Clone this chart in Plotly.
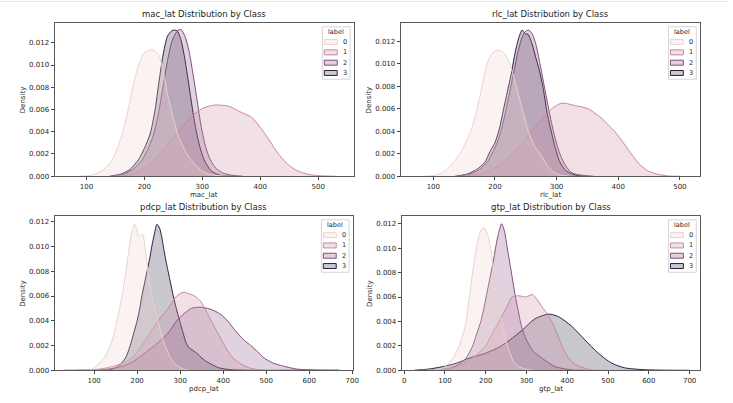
import plotly.graph_objects as go

W, H = 733, 403

# ---------------- data ----------------
panels = ["mac_lat", "rlc_lat", "pdcp_lat", "gtp_lat"]
classes = ["0", "1", "2", "3"]

# mac_lat
mac_x0 = [85, 110, 130, 145, 160, 170, 180, 190, 200, 213, 225, 232, 240, 250, 260, 275, 290, 305, 320, 345]
mac_d0 = [0, 0.0001, 0.0006, 0.0015, 0.0035, 0.0055, 0.0080, 0.0100, 0.0111, 0.0114, 0.0109, 0.0095, 0.0074, 0.0052, 0.0034, 0.0019, 0.0009, 0.0003, 0.0001, 0]
mac_x1 = [150, 180, 200, 220, 240, 260, 280, 300, 322, 345, 365, 385, 400, 415, 430, 445, 460, 480, 500, 530]
mac_d1 = [0, 0.0002, 0.0007, 0.0016, 0.0028, 0.0041, 0.0053, 0.0061, 0.0064, 0.0063, 0.0058, 0.0053, 0.0044, 0.0033, 0.0021, 0.0012, 0.0006, 0.0002, 0.00005, 0]
mac_x2 = [145, 165, 180, 195, 205, 215, 225, 232, 240, 248, 256, 263, 270, 277, 283, 290, 297, 304, 312, 322, 335, 350, 370]
mac_d2 = [0, 0.0002, 0.0006, 0.0014, 0.0023, 0.0036, 0.0058, 0.0080, 0.0104, 0.0122, 0.0130, 0.0132, 0.0126, 0.0113, 0.0095, 0.0072, 0.0048, 0.0030, 0.0017, 0.0008, 0.0003, 0.0001, 0]
mac_x3 = [140, 160, 175, 190, 200, 210, 218, 225, 232, 240, 248, 256, 263, 270, 276, 282, 288, 295, 303, 315, 330, 350]
mac_d3 = [0, 0.0002, 0.0006, 0.0015, 0.0025, 0.0038, 0.0058, 0.0084, 0.0108, 0.0126, 0.0131, 0.0131, 0.0123, 0.0105, 0.0085, 0.0064, 0.0045, 0.0028, 0.0015, 0.0005, 0.0001, 0]

# rlc_lat
rlc_x0 = [85, 105, 120, 135, 145, 155, 163, 171, 179, 187, 195, 203, 212, 220, 228, 236, 244, 254, 264, 273, 283, 292, 305, 320]
rlc_d0 = [0, 0.0001, 0.0005, 0.0014, 0.0022, 0.0033, 0.0044, 0.0060, 0.0080, 0.0100, 0.0109, 0.0112, 0.0111, 0.0105, 0.0093, 0.0077, 0.0060, 0.0040, 0.0027, 0.0020, 0.0011, 0.0005, 0.0001, 0]
rlc_x1 = [150, 175, 195, 210, 228, 245, 260, 275, 292, 308, 329, 351, 372, 385, 394, 408, 421, 434, 447, 462, 480, 500]
rlc_d1 = [0, 0.0002, 0.0006, 0.0011, 0.0020, 0.0030, 0.0040, 0.0050, 0.0060, 0.0065, 0.0063, 0.0060, 0.0052, 0.0045, 0.0040, 0.0030, 0.0020, 0.0011, 0.0005, 0.0002, 0.00003, 0]
rlc_x2 = [140, 160, 175, 188, 197, 205, 212, 219, 225, 231, 237, 243, 248, 254, 260, 266, 273, 280, 286, 292, 298, 306, 315, 325, 340, 360]
rlc_d2 = [0, 0.0002, 0.0006, 0.0013, 0.0022, 0.0032, 0.0045, 0.0062, 0.0078, 0.0094, 0.0110, 0.0122, 0.0128, 0.0130, 0.0127, 0.0118, 0.0100, 0.0080, 0.0063, 0.0047, 0.0033, 0.0019, 0.0009, 0.0003, 0.0001, 0]
rlc_x3 = [135, 155, 170, 183, 192, 200, 207, 214, 220, 226, 232, 238, 244, 249, 254, 260, 266, 272, 278, 284, 290, 297, 305, 315, 330, 350]
rlc_d3 = [0, 0.0002, 0.0006, 0.0012, 0.0022, 0.0030, 0.0042, 0.0060, 0.0075, 0.0090, 0.0108, 0.0122, 0.0130, 0.0127, 0.0126, 0.0118, 0.0106, 0.0094, 0.0079, 0.0058, 0.0043, 0.0027, 0.0013, 0.0005, 0.0001, 0]

# pdcp_lat
pdcp_x0 = [70, 90, 111, 125, 138, 146, 153, 160, 165, 170, 174, 178, 182, 188, 194, 199, 203, 208, 213, 218, 225, 230, 234, 241, 248, 256, 265, 276, 288, 306, 320]
pdcp_d0 = [0, 0.0000, 0.0005, 0.0011, 0.0020, 0.0029, 0.0040, 0.0051, 0.0060, 0.0071, 0.0080, 0.0090, 0.0100, 0.0112, 0.0118, 0.0114, 0.0108, 0.0109, 0.0110, 0.0100, 0.0080, 0.0068, 0.0060, 0.0050, 0.0040, 0.0030, 0.0020, 0.0011, 0.0005, 0.0001, 0]
pdcp_x1 = [90, 130, 160, 188, 211, 230, 249, 272, 292, 307, 320, 334, 349, 360, 372, 388, 403, 420, 441, 460, 479, 500]
pdcp_d1 = [0, 0.0002, 0.0005, 0.0010, 0.0020, 0.0030, 0.0040, 0.0050, 0.0060, 0.0063, 0.0062, 0.0060, 0.0055, 0.0048, 0.0040, 0.0030, 0.0020, 0.0011, 0.0005, 0.0002, 0.00005, 0]
pdcp_x2 = [60, 110, 150, 180, 203, 222, 241, 257, 272, 292, 310, 326, 345, 364, 380, 395, 410, 433, 450, 464, 480, 495, 515, 533, 571, 617, 670]
pdcp_d2 = [0, 0.00003, 0.0002, 0.0005, 0.0010, 0.0015, 0.0020, 0.0025, 0.0030, 0.0040, 0.0046, 0.0050, 0.0051, 0.0050, 0.0048, 0.0045, 0.0040, 0.0030, 0.0024, 0.0020, 0.0015, 0.0010, 0.0006, 0.0004, 0.0001, 0.00002, 0]
pdcp_x3 = [30, 100, 134, 155, 173, 184, 192, 200, 206, 211, 217, 223, 229, 234, 240, 246, 252, 257, 261, 266, 272, 278, 284, 291, 299, 307, 314, 321, 330, 341, 357, 372, 390, 418, 460, 560, 670]
pdcp_d3 = [0, 0, 0.00003, 0.0003, 0.0010, 0.0020, 0.0030, 0.0040, 0.0050, 0.0060, 0.0070, 0.0080, 0.0090, 0.0100, 0.0110, 0.0118, 0.0115, 0.0108, 0.0100, 0.0090, 0.0080, 0.0070, 0.0060, 0.0050, 0.0040, 0.0030, 0.0022, 0.0018, 0.0016, 0.0013, 0.0008, 0.0005, 0.0002, 0.00005, 0, 0, 0]

# gtp_lat
gtp_x0 = [60, 90, 107, 122, 135, 145, 152, 160, 168, 177, 186, 196, 204, 212, 220, 228, 239, 253, 273, 297, 315]
gtp_d0 = [0, 0.0001, 0.0005, 0.0011, 0.0020, 0.0030, 0.0040, 0.0060, 0.0080, 0.0100, 0.0113, 0.0117, 0.0112, 0.0100, 0.0080, 0.0060, 0.0040, 0.0020, 0.0005, 0.0001, 0]
gtp_x1 = [40, 100, 140, 168, 185, 200, 216, 233, 249, 265, 281, 298, 314, 326, 338, 350, 362, 375, 387, 403, 419, 440, 460, 490]
gtp_d1 = [0, 0.0001, 0.0004, 0.0010, 0.0015, 0.0020, 0.0030, 0.0040, 0.0050, 0.0060, 0.0061, 0.0060, 0.0062, 0.0058, 0.0052, 0.0047, 0.0040, 0.0030, 0.0020, 0.0010, 0.0005, 0.0002, 0.00003, 0]
gtp_x2 = [60, 103, 130, 152, 168, 178, 188, 195, 201, 207, 213, 219, 224, 232, 239, 246, 253, 258, 263, 268, 273, 279, 285, 293, 306, 318, 330, 346, 370, 411, 450]
gtp_d2 = [0, 0.0001, 0.0004, 0.0010, 0.0020, 0.0030, 0.0040, 0.0050, 0.0060, 0.0070, 0.0080, 0.0090, 0.0100, 0.0113, 0.0120, 0.0114, 0.0100, 0.0090, 0.0080, 0.0070, 0.0060, 0.0050, 0.0040, 0.0030, 0.0021, 0.0015, 0.0012, 0.0008, 0.0003, 0.00003, 0]
gtp_x3 = [25, 60, 95, 130, 160, 200, 233, 260, 290, 320, 354, 378, 411, 443, 476, 508, 541, 589, 640, 700]
gtp_d3 = [0, 0.0001, 0.0003, 0.0006, 0.0010, 0.0014, 0.0019, 0.0025, 0.0033, 0.0042, 0.0046, 0.0044, 0.0036, 0.0025, 0.0014, 0.0006, 0.0002, 0.00005, 0.00001, 0]

series = {
    "mac_lat": [(mac_x0, mac_d0), (mac_x1, mac_d1), (mac_x2, mac_d2), (mac_x3, mac_d3)],
    "rlc_lat": [(rlc_x0, rlc_d0), (rlc_x1, rlc_d1), (rlc_x2, rlc_d2), (rlc_x3, rlc_d3)],
    "pdcp_lat": [(pdcp_x0, pdcp_d0), (pdcp_x1, pdcp_d1), (pdcp_x2, pdcp_d2), (pdcp_x3, pdcp_d3)],
    "gtp_lat": [(gtp_x0, gtp_d0), (gtp_x1, gtp_d1), (gtp_x2, gtp_d2), (gtp_x3, gtp_d3)],
}

x_ranges = {"mac_lat": [45, 562], "rlc_lat": [47, 533], "pdcp_lat": [8, 702], "gtp_lat": [-6, 726]}
y_ranges = {"mac_lat": [0, 0.0138], "rlc_lat": [0, 0.01365], "pdcp_lat": [0, 0.01248], "gtp_lat": [0, 0.01265]}
x_ticks = {
    "mac_lat": [100, 200, 300, 400, 500],
    "rlc_lat": [100, 200, 300, 400, 500],
    "pdcp_lat": [100, 200, 300, 400, 500, 600, 700],
    "gtp_lat": [0, 100, 200, 300, 400, 500, 600, 700],
}
y_ticks = [0, 0.002, 0.004, 0.006, 0.008, 0.010, 0.012]

# ---------------- style ----------------
colors = [(237, 209, 203), (200, 135, 158), (131, 76, 125), (45, 30, 62)]
FONT = "DejaVu Sans"
TXT = "#262626"

# pixel boxes of each axes: left, right, top, bottom
boxes = {
    "mac_lat": (55, 357, 23, 178),
    "rlc_lat": (404, 706, 23, 178),
    "pdcp_lat": (55, 356, 218, 374),
    "gtp_lat": (405, 706, 218, 374),
}

def px(x):
    return x / W

def py(y):
    return 1 - y / H

fig = go.Figure()
shapes = []
annotations = []

for i, name in enumerate(panels):
    ax = "" if i == 0 else str(i + 1)
    L, R, T, B = boxes[name]
    # seaborn draws the hue levels in reverse order
    for k in [3, 2, 1, 0]:
        xs, ds = series[name][k]
        r, g, b = colors[k]
        fig.add_trace(go.Scatter(
            x=xs, y=ds, mode="lines", fill="tozeroy",
            line=dict(color=f"rgb({r},{g},{b})", width=1, shape="spline", smoothing=0.7),
            fillcolor=f"rgba({r},{g},{b},0.25)",
            name=classes[k], showlegend=False,
            xaxis="x" + ax, yaxis="y" + ax,
        ))
    common = dict(showline=True, mirror=True, linecolor="#5a5a5a", linewidth=1,
                  showgrid=False, zeroline=False, ticks="outside", ticklen=3,
                  tickcolor="#444", tickwidth=1,
                  tickfont=dict(family=FONT, size=7, color=TXT))
    fig.update_layout({
        "xaxis" + ax: dict(domain=[px(L), px(R)], range=x_ranges[name],
                           tickvals=x_ticks[name], anchor="y" + ax, **common),
        "yaxis" + ax: dict(domain=[py(B), py(T)], range=y_ranges[name],
                           tickvals=y_ticks, tickformat=".3f", anchor="x" + ax, **common),
    })
    cx = (L + R) / 2
    annotations.append(dict(text=f"{name} Distribution by Class", x=px(cx), y=py(T - 9),
                            xref="paper", yref="paper", showarrow=False,
                            xanchor="center", yanchor="middle",
                            font=dict(family=FONT, size=8.5, color=TXT)))
    annotations.append(dict(text=name, x=px(cx), y=py(B + 19), xref="paper", yref="paper",
                            showarrow=False, xanchor="center", yanchor="middle",
                            font=dict(family=FONT, size=7, color=TXT)))
    annotations.append(dict(text="Density", x=px(L - 32), y=py((T + B) / 2),
                            xref="paper", yref="paper", showarrow=False, textangle=-90,
                            xanchor="center", yanchor="middle",
                            font=dict(family=FONT, size=7, color=TXT)))
    # legend box
    shapes.append(dict(type="rect", xref="paper", yref="paper",
                       x0=px(R - 32), x1=px(R - 4), y0=py(T + 57), y1=py(T + 4),
                       line=dict(color="#d6d6d6", width=1), fillcolor="rgba(255,255,255,0.8)"))
    annotations.append(dict(text="label", x=px(R - 18), y=py(T + 9), xref="paper", yref="paper",
                            showarrow=False, xanchor="center", yanchor="middle",
                            font=dict(family=FONT, size=6.5, color=TXT)))
    for k in range(4):
        r, g, b = colors[k]
        cy = T + 19.5 + 10.4 * k
        shapes.append(dict(type="rect", xref="paper", yref="paper",
                           x0=px(R - 30), x1=px(R - 17), y0=py(cy + 2.5), y1=py(cy - 2.5),
                           line=dict(color=f"rgb({r},{g},{b})", width=1),
                           fillcolor=f"rgba({r},{g},{b},0.25)"))
        annotations.append(dict(text=classes[k], x=px(R - 9), y=py(cy), xref="paper", yref="paper",
                                showarrow=False, xanchor="center", yanchor="middle",
                                font=dict(family=FONT, size=6.5, color=TXT)))

# faint page border line at the top
shapes.append(dict(type="line", xref="paper", yref="paper", x0=0, x1=1, y0=py(1.5), y1=py(1.5),
                   line=dict(color="#e6e6e6", width=1)))

fig.update_layout(
    width=W, height=H, margin=dict(l=0, r=0, t=0, b=0),
    paper_bgcolor="white", plot_bgcolor="white",
    showlegend=False, shapes=shapes, annotations=annotations,
)

fig.write_html("out.html")
